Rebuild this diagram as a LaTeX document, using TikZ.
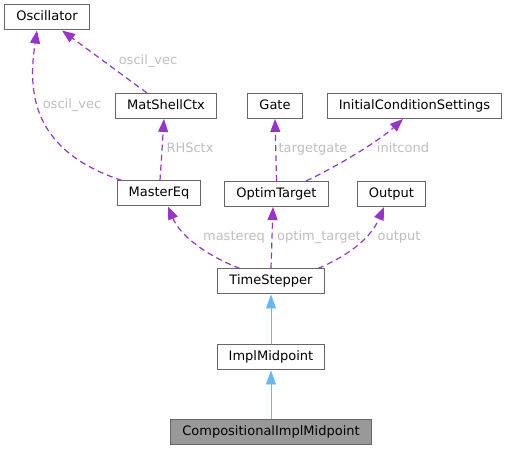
\documentclass[tikz,border=0pt]{standalone}
\usepackage{fontspec}
\setmainfont{DejaVu Sans}
\usetikzlibrary{arrows.meta,positioning}
\definecolor{edgeuse}{HTML}{9A32CD}
\definecolor{edgeinh}{HTML}{63B8FF}
\definecolor{lblgrey}{HTML}{BEBEBE}
\definecolor{boxline}{HTML}{666666}
\definecolor{rootfill}{HTML}{999999}

\begin{document}
\begin{tikzpicture}[
  x=1pt, y=-1pt,
  font=\fontsize{13}{15}\selectfont,
  cls/.style={draw=boxline, line width=1pt, fill=white, minimum height=25pt,
    inner xsep=11.5pt, inner ysep=0pt, text height=9.5pt, text depth=2.5pt},
  lbl/.style={text=lblgrey, anchor=base, inner sep=0pt},
  use/.style={-{Triangle[length=13pt,width=10pt,fill=edgeuse]}, draw=edgeuse,
    line width=1.2pt, dash pattern=on 6pt off 4pt},
  inh/.style={-{Triangle[length=14pt,width=10pt,fill=edgeinh]}, draw=edgeinh,
    line width=0.8pt}]
  \useasboundingbox (0,0) rectangle (507,449);
  % classes
  \node[cls] (osc) at (47,17.5) {Oscillator};
  \node[cls] (mat) at (166,106) {MatShellCtx};
  \node[cls] (gate) at (275,106) {Gate};
  \node[cls] (init) at (414.5,106) {InitialConditionSettings};
  \node[cls] (master) at (159,193.5) {MasterEq};
  \node[cls] (optim) at (276.5,194) {OptimTarget};
  \node[cls] (out) at (391.5,194) {Output};
  \node[cls] (ts) at (271,281.5) {TimeStepper};
  \node[cls, below=50pt of ts] (impl) {ImplMidpoint};
  \node[cls, fill=rootfill, below=49pt of impl] (comp) {CompositionalImplMidpoint};
  % usage edges
  \draw[use] ([xshift=-37pt]master.north) .. controls (30,150) and (28,90) .. ([xshift=-10pt]osc.south);
  \draw[use] ([xshift=-19pt]mat.north) -- ([xshift=15pt]osc.south);
  \draw[use] ([xshift=1pt]master.north) -- ([xshift=-2pt]mat.south);
  \draw[use] (optim.north) -- (gate.south);
  \draw[use] ([xshift=29.5pt]optim.north) .. controls (340,165) and (380,140) .. ([xshift=-11.5pt]init.south);
  \draw[use] (ts.north) -- ([xshift=-3.5pt]optim.south);
  \draw[use] ([xshift=-31pt]ts.north) .. controls (205,255) and (180,235) .. ([xshift=9pt]master.south);
  \draw[use] ([xshift=47pt]ts.north) .. controls (345,257) and (370,240) .. ([xshift=-7.5pt]out.south);
  % edge labels
  \node[lbl] (lOscA) at (148,65) {oscil\_vec};
  \node[lbl] (lOscB) at (72,109) {oscil\_vec};
  \node[lbl] (lRhs) at (190,153) {RHSctx};
  \node[lbl] (lGate) at (313,153) {targetgate};
  \node[lbl] (lInit) at (403,153) {initcond};
  \node[lbl] (lMaster) at (234,241) {mastereq};
  \node[lbl] (lOptim) at (319,241) {optim\_target};
  \node[lbl] (lOut) at (399,241) {output};
  % inheritance
  \draw[inh] (impl) -- (ts);
  \draw[inh] (comp) -- (impl);
\end{tikzpicture}
\end{document}
